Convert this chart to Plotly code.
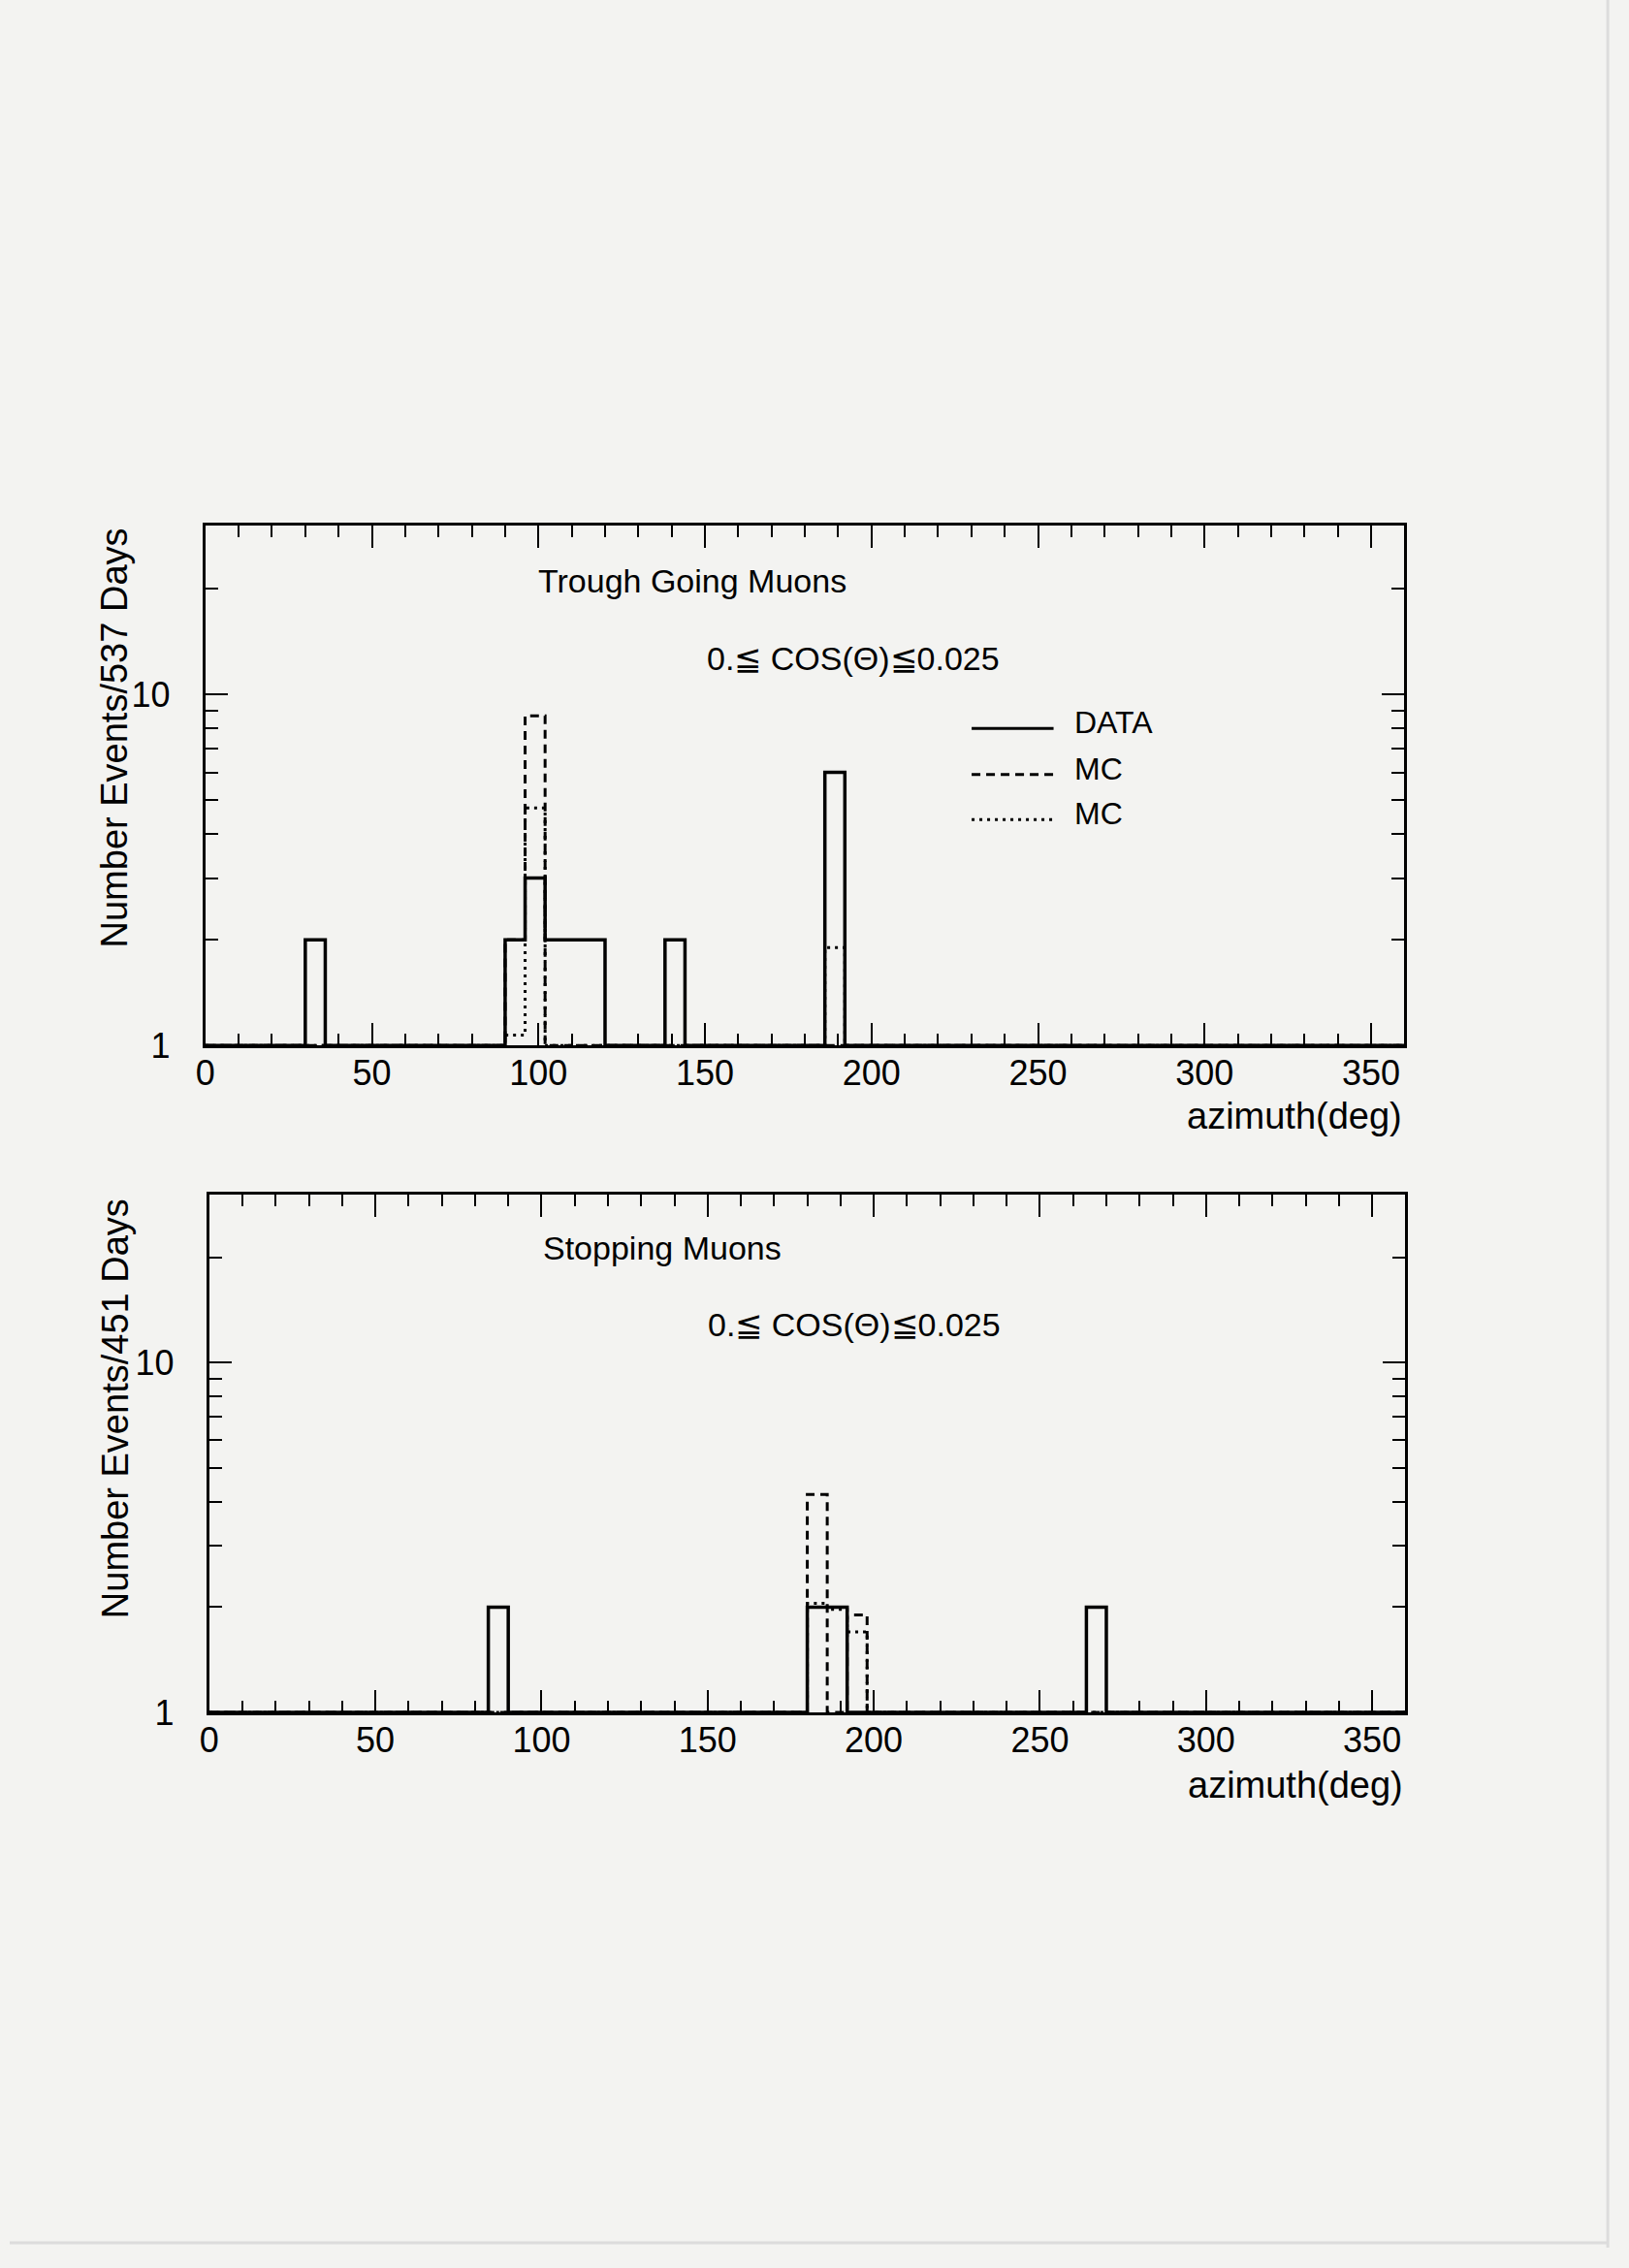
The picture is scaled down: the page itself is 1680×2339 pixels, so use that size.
import numpy as np
import plotly.graph_objects as go

# ---------------- data ----------------
BIN_WIDTH = 6
AZ_MIN, AZ_MAX = 0, 360

# Top panel: Trough Going Muons (537 days) -- bin low edges and contents
top_data_bins = [30, 90, 96, 102, 108, 114, 138, 186]
top_data_vals = [2, 2, 3, 2, 2, 2, 2, 6]
top_mc_dash_bins = [90, 96]
top_mc_dash_vals = [2.0, 8.7]
top_mc_dot_bins = [90, 96, 186]
top_mc_dot_vals = [1.07, 4.75, 1.9]

# Bottom panel: Stopping Muons (451 days)
bot_data_bins = [84, 180, 186, 264]
bot_data_vals = [2, 2, 2, 2]
bot_mc_dash_bins = [180, 192]
bot_mc_dash_vals = [4.2, 1.9]
bot_mc_dot_bins = [180, 186, 192]
bot_mc_dot_vals = [2.05, 1.97, 1.7]

x_tick_vals = [0, 50, 100, 150, 200, 250, 300, 350]
y_tick_vals = [1, 10]
y_minor_vals = [2, 3, 4, 5, 6, 7, 8, 9, 20]

# --------------- helpers ---------------
edges = np.arange(AZ_MIN, AZ_MAX + BIN_WIDTH, BIN_WIDTH)


def step_xy(bins, vals, floor=1.0):
    counts = np.full(len(edges) - 1, floor)
    for b, v in zip(bins, vals):
        counts[int(b // BIN_WIDTH)] = v
    x = list(edges)
    y = list(counts) + [counts[-1]]
    return x, y


W, H = 1680, 2339
BG = "#f3f3f1"
FONT = "Liberation Sans, Arial, sans-serif"

fig = go.Figure()


def add_hist(bins, vals, dash, width, xa, ya):
    x, y = step_xy(bins, vals)
    fig.add_trace(go.Scatter(x=x, y=y, mode="lines", line_shape="hv",
                             line=dict(color="black", width=width, dash=dash),
                             xaxis=xa, yaxis=ya, showlegend=False,
                             hoverinfo="skip"))


add_hist(top_mc_dot_bins, top_mc_dot_vals, "3px,5px", 3, "x", "y")
add_hist(top_mc_dash_bins, top_mc_dash_vals, "9px,6px", 3, "x", "y")
add_hist(top_data_bins, top_data_vals, "solid", 3.5, "x", "y")

add_hist(bot_mc_dot_bins, bot_mc_dot_vals, "3px,5px", 3, "x2", "y2")
add_hist(bot_mc_dash_bins, bot_mc_dash_vals, "9px,6px", 3, "x2", "y2")
add_hist(bot_data_bins, bot_data_vals, "solid", 3.5, "x2", "y2")


def xaxis_cfg(domain, anchor):
    return dict(domain=domain, anchor=anchor, range=[AZ_MIN, AZ_MAX],
                tickvals=x_tick_vals, ticks="inside", ticklen=23, tickwidth=2,
                tickcolor="black", showline=True, linecolor="black",
                linewidth=3, mirror="ticks", showgrid=False, zeroline=False,
                tickfont=dict(family=FONT, size=36, color="black"),
                ticklabelstandoff=-5,
                minor=dict(dtick=10, ticks="inside", ticklen=12,
                           tickwidth=2, tickcolor="black", showgrid=False))


def yaxis_cfg(domain, anchor):
    return dict(domain=domain, anchor=anchor, type="log",
                range=[0, np.log10(30.3)], tickvals=y_tick_vals,
                ticktext=["1", "10"], ticks="inside", ticklen=23,
                tickwidth=2, tickcolor="black", showline=True,
                linecolor="black", linewidth=3, mirror="ticks",
                showgrid=False, zeroline=False,
                tickfont=dict(family=FONT, size=36, color="black"),
                ticklabelstandoff=26,
                minor=dict(tickvals=y_minor_vals, ticks="inside", ticklen=13,
                           tickwidth=2, tickcolor="black", showgrid=False))


fig.update_layout(
    width=W, height=H,
    margin=dict(l=0, r=0, t=0, b=0),
    paper_bgcolor=BG, plot_bgcolor=BG,
    showlegend=False,
    xaxis=xaxis_cfg([203 / W, 1447 / W], "y"),
    yaxis=yaxis_cfg([1 - 1088 / H, 1 - 547 / H], "x"),
    xaxis2=xaxis_cfg([207 / W, 1448 / W], "y2"),
    yaxis2=yaxis_cfg([1 - 1782 / H, 1 - 1243 / H], "x2"),
)


def ann(text, x, y, size, xanchor="center", angle=0):
    fig.add_annotation(text=text, x=x, y=y, xref="paper", yref="paper",
                       xanchor=xanchor, yanchor="middle", showarrow=False,
                       textangle=angle,
                       font=dict(family=FONT, size=size, color="black"))


cos_label = "0.≦ COS(Θ)≦0.025"

# top panel texts
ann("Trough Going Muons", 708 / W, 1 - 604 / H, 34)
ann(cos_label, 875 / W, 1 - 685 / H, 34)
ann("Number Events/537 Days", 109 / W, 1 - 768 / H, 38, angle=-90)
ann("azimuth(deg)", 1447 / W, 1 - 1161 / H, 38, xanchor="right")

# legend (decoration)
legend_items = [("DATA", "solid", 758), ("MC", "9px,6px", 806),
                ("MC", "3px,5px", 853)]
for label, dash, ypix in legend_items:
    fig.add_shape(type="line", xref="paper", yref="paper",
                  x0=998 / W, x1=1083 / W, y0=1 - ypix / H, y1=1 - ypix / H,
                  line=dict(color="black", width=3, dash=dash))
    ann(label, 1103 / W, 1 - (ypix - 6) / H, 32, xanchor="left")

# bottom panel texts
ann("Stopping Muons", 677 / W, 1 - 1299 / H, 34)
ann(cos_label, 876 / W, 1 - 1378 / H, 34)
ann("Number Events/451 Days", 109 / W, 1 - 1466 / H, 38, angle=-90)
ann("azimuth(deg)", 1448 / W, 1 - 1858 / H, 38, xanchor="right")

# scan page edge
fig.add_shape(type="line", xref="paper", yref="paper", x0=1658 / W,
              x1=1658 / W, y0=0, y1=1, line=dict(color="#dcdcdc", width=3))
fig.add_shape(type="line", xref="paper", yref="paper", x0=0, x1=1658 / W,
              y0=1 - 2334 / H, y1=1 - 2334 / H,
              line=dict(color="#dcdcdc", width=3))

fig.write_html(
    "out.html",
    config={"displayModeBar": False},
    post_script="document.body.style.margin='0';"
                "document.body.style.padding='0';"
                "document.body.style.overflow='hidden';"
                f"document.body.style.background='{BG}';",
)
